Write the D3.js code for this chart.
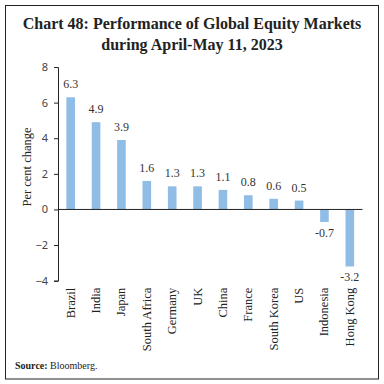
<!DOCTYPE html>
<html>
<head>
<meta charset="utf-8">
<script src="https://cdn.jsdelivr.net/npm/d3@7"></script>
<style>
  body { margin: 0; background: #fff; }
  svg { display: block; }
</style>
</head>
<body>
<div id="chart"></div>
<script>
const countries = ['Brazil', 'India', 'Japan', 'South Africa', 'Germany', 'UK',
  'China', 'France', 'South Korea', 'US', 'Indonesia', 'Hong Kong'];
const changes = [6.3, 4.9, 3.9, 1.6, 1.3, 1.3, 1.1, 0.8, 0.6, 0.5, -0.7, -3.2];
const yTicks = [-4, -2, 0, 2, 4, 6, 8];

const width = 384, height = 384;
const margin = {left: 58, right: 21.5, top: 67, bottom: 103.3};

const svg = d3.select('#chart').append('svg')
  .attr('width', width)
  .attr('height', height);

// frame
svg.append('rect')
  .attr('x', 5.5).attr('y', 5.5)
  .attr('width', 373).attr('height', 373.5)
  .attr('fill', 'none').attr('stroke', '#222').attr('stroke-width', 1);

// title
const title = svg.append('text')
  .attr('text-anchor', 'middle')
  .attr('font-family', 'Liberation Serif, serif')
  .attr('font-weight', 'bold')
  .attr('font-size', 16)
  .attr('fill', '#222');
title.append('tspan').attr('x', 192).attr('y', 29).text('Chart 48: Performance of Global Equity Markets');
title.append('tspan').attr('x', 192).attr('y', 50).text('during April-May 11, 2023');

const x = d3.scaleBand()
  .domain(countries)
  .range([margin.left, width - margin.right])
  .paddingInner(0.66)
  .paddingOuter(0.33);

const y = d3.scaleLinear()
  .domain([-4, 8])
  .range([height - margin.bottom, margin.top]);

// y axis
const yAxis = svg.append('g')
  .attr('transform', `translate(${margin.left},0)`)
  .call(d3.axisLeft(y).tickValues(yTicks).tickSize(4).tickPadding(6));
yAxis.select('.domain').attr('stroke', '#222');
yAxis.selectAll('.tick line').attr('stroke', '#222');
yAxis.selectAll('.tick text')
  .attr('font-family', 'Noto Sans, sans-serif')
  .attr('font-size', 11)
  .attr('fill', '#444');

svg.append('text')
  .attr('transform', `translate(31,167) rotate(-90)`)
  .attr('text-anchor', 'middle')
  .attr('font-family', 'Liberation Serif, serif')
  .attr('font-size', 12.5)
  .attr('fill', '#222')
  .text('Per cent change');

// bars
svg.selectAll('.bar')
  .data(countries)
  .enter().append('rect')
  .attr('class', 'bar')
  .attr('x', d => x(d))
  .attr('width', x.bandwidth())
  .attr('y', (d, i) => y(Math.max(0, changes[i])))
  .attr('height', (d, i) => Math.abs(y(changes[i]) - y(0)))
  .attr('fill', '#8fbde6');

// value labels
svg.selectAll('.val')
  .data(countries)
  .enter().append('text')
  .attr('class', 'val')
  .attr('x', d => x(d) + x.bandwidth() / 2)
  .attr('y', (d, i) => changes[i] >= 0 ? y(changes[i]) - 9 : y(changes[i]) + 15)
  .attr('text-anchor', 'middle')
  .attr('font-family', 'Liberation Serif, serif')
  .attr('font-size', 12)
  .attr('fill', '#333')
  .text((d, i) => changes[i].toFixed(1));

// zero line
svg.append('line')
  .attr('x1', margin.left).attr('x2', width - margin.right)
  .attr('y1', y(0)).attr('y2', y(0))
  .attr('stroke', '#222');

// category labels
svg.selectAll('.cat')
  .data(countries)
  .enter().append('text')
  .attr('class', 'cat')
  .attr('transform', d => `translate(${x(d) + x.bandwidth() / 2 + 4},${y(-4) + 7}) rotate(-90)`)
  .attr('text-anchor', 'end')
  .attr('font-family', 'Liberation Serif, serif')
  .attr('font-size', 12.5)
  .attr('fill', '#222')
  .text(d => d);

// source
const src = svg.append('text')
  .attr('x', 15).attr('y', 369)
  .attr('font-family', 'Liberation Serif, serif')
  .attr('font-size', 10)
  .attr('fill', '#222');
src.append('tspan').attr('font-weight', 'bold').text('Source: ');
src.append('tspan').text('Bloomberg.');
</script>
</body>
</html>
